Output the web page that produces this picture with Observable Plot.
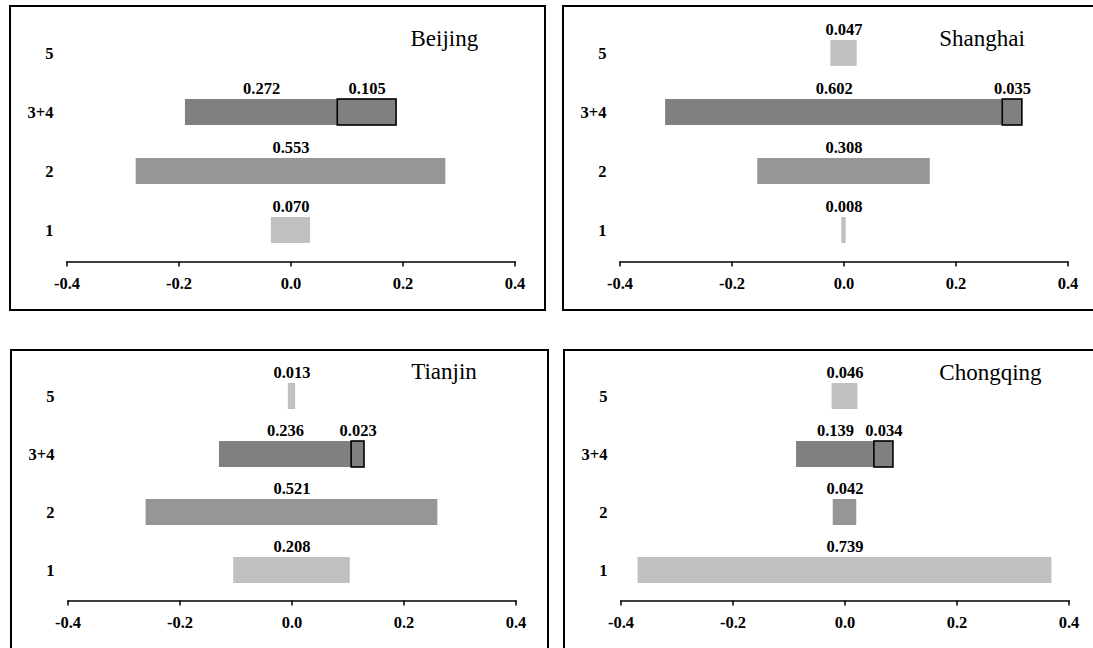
<!DOCTYPE html>
<html>
<head>
<meta charset="utf-8">
<script src="https://cdn.jsdelivr.net/npm/d3@7"></script>
<script src="https://cdn.jsdelivr.net/npm/@observablehq/plot@0.6"></script>
<style>
  html, body { margin: 0; padding: 0; background: #fff; overflow: hidden; }
  #page { position: relative; width: 1093px; height: 648px; overflow: hidden; }
  .panel { position: absolute; box-sizing: border-box; border: 2px solid #000; background: #fff; }
  .panel svg { display: block; overflow: visible; }
</style>
</head>
<body>
<div id="page"></div>
<script>
// ---- data ----
const cities = ["Beijing", "Shanghai", "Tianjin", "Chongqing"];
const categories = ["5", "3+4", "2", "1"];
const level5 = [null, 0.047, 0.013, 0.046];
const level34a = [0.272, 0.602, 0.236, 0.139];
const level34b = [0.105, 0.035, 0.023, 0.034];
const level2 = [0.553, 0.308, 0.521, 0.042];
const level1 = [0.070, 0.008, 0.208, 0.739];
const xTicks = [-0.4, -0.2, 0.0, 0.2, 0.4];

// ---- styles / layout ----
const colors = {"5": "#c0c0c0", "3+4": "#808080", "2": "#969696", "1": "#c0c0c0"};
const layouts = [
  {left: 9,   top: 5,   w: 537, h: 306, yRange: [31.3, 236.7], pi: 0.565, axisY: 254.5, tdx: 343.5, tbase: 38.7},
  {left: 562, top: 5,   w: 545, h: 306, yRange: [31.3, 236.7], pi: 0.565, axisY: 254.5, tdx: 319.3, tbase: 38},
  {left: 10,  top: 349, w: 539, h: 310, yRange: [31.3, 233.0], pi: 0.556, axisY: 249.5, tdx: 343.2, tbase: 27},
  {left: 563, top: 349, w: 545, h: 310, yRange: [31.3, 233.0], pi: 0.556, axisY: 249.5, tdx: 318.3, tbase: 28}
];
const FS = 16.5;

function rowsFor(i) {
  const rows = [];
  const single = (cat, v) => {
    if (v == null) return;
    rows.push({cat, x1: -v / 2, x2: v / 2, lx: 0, label: v.toFixed(3), fill: colors[cat], boxed: false});
  };
  single("5", level5[i]);
  const a = level34a[i], b = level34b[i], t = a + b;
  rows.push({cat: "3+4", x1: -t / 2, x2: -t / 2 + a, lx: (-t / 2 + (-t / 2 + a)) / 2, label: a.toFixed(3), fill: colors["3+4"], boxed: false});
  rows.push({cat: "3+4", x1: -t / 2 + a, x2: t / 2, lx: ((-t / 2 + a) + t / 2) / 2, label: b.toFixed(3), fill: colors["3+4"], boxed: true});
  single("2", level2[i]);
  single("1", level1[i]);
  return rows;
}

const page = document.getElementById("page");
cities.forEach((city, i) => {
  const L = layouts[i];
  const W = L.w - 4, H = L.h - 4;
  const rows = rowsFor(i);
  const chart = Plot.plot({
    width: W,
    height: H,
    marginLeft: 55.5,
    marginRight: W - 503.5,
    marginTop: 0,
    marginBottom: H - L.axisY,
    x: {domain: [-0.4, 0.4]},
    y: {domain: categories, range: L.yRange, paddingInner: L.pi, paddingOuter: 0},
    color: {type: "identity"},
    style: {fontFamily: "'Liberation Serif', 'Times New Roman', serif", fontSize: FS + "px", fontWeight: "bold", background: "#fff", color: "#000"},
    marks: [
      Plot.barX(rows, {x1: "x1", x2: "x2", y: "cat", fill: "fill"}),
      Plot.barX(rows.filter(d => d.boxed), {x1: "x1", x2: "x2", y: "cat", fill: "none", stroke: "#000", strokeWidth: 1.6}),
      Plot.text(rows, {x: "lx", y: "cat", text: "label", dy: -24, fontSize: FS, fontWeight: "bold", fill: "#000"}),
      Plot.frame({anchor: "bottom", stroke: "#000", strokeWidth: 1.5}),
      Plot.axisX({ticks: xTicks, tickSize: 5, tickPadding: 10.5, tickFormat: d => d.toFixed(1), label: null, fontSize: FS, fontWeight: "bold", strokeWidth: 1.5}),
      Plot.axisY({tickSize: 0, tickPadding: 13.5, label: null, fontSize: FS, fontWeight: "bold"}),
      Plot.text([city], {frameAnchor: "top-left", dx: L.tdx, dy: L.tbase, textAnchor: "start", lineAnchor: "bottom", fontSize: 23, fontWeight: "normal", fill: "#000"})
    ]
  });
  const div = document.createElement("div");
  div.className = "panel";
  div.style.left = L.left + "px";
  div.style.top = L.top + "px";
  div.style.width = L.w + "px";
  div.style.height = L.h + "px";
  div.appendChild(chart);
  page.appendChild(div);
});
</script>
</body>
</html>
